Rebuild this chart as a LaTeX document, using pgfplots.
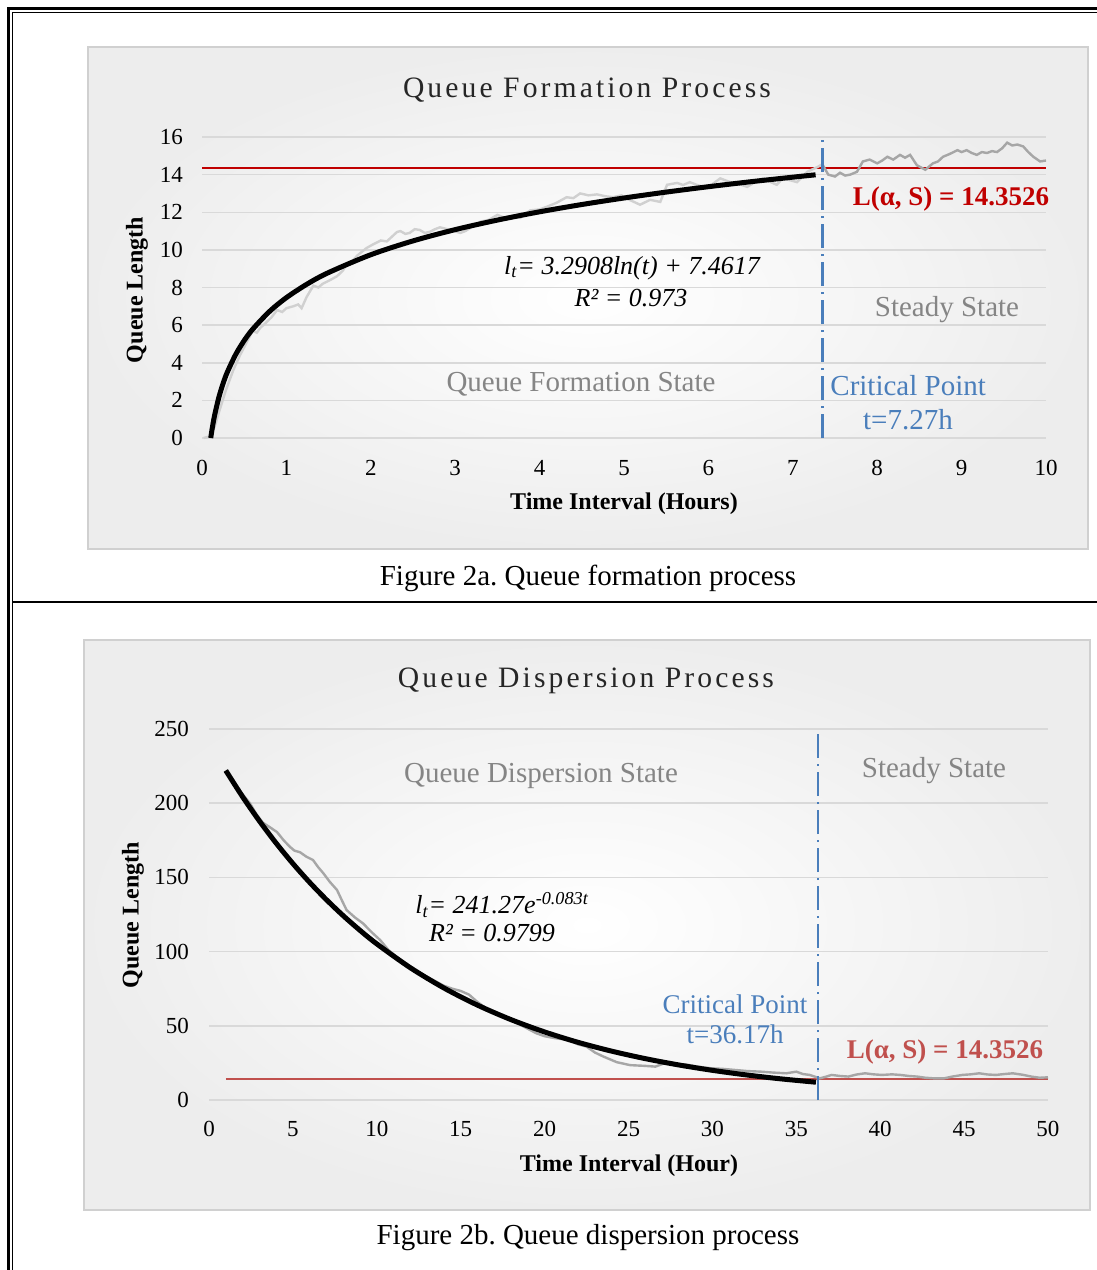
\documentclass[border=0pt]{standalone}
\usepackage{fontspec}
\setmainfont{Liberation Serif}
\newfontfamily\titlefont[LetterSpace=10.5]{Liberation Serif}
\usepackage{pgfplots}
\pgfplotsset{compat=1.18}
\definecolor{gridc}{HTML}{D9D9D9}
\definecolor{panelb}{HTML}{D0D0D0}
\definecolor{grayL}{HTML}{D0D0D0}
\definecolor{grayD}{HTML}{A6A6A6}
\definecolor{redA}{HTML}{C00000}
\definecolor{redB}{HTML}{C0504D}
\definecolor{blueA}{HTML}{4A7EBB}
\definecolor{txtgray}{HTML}{858585}
\definecolor{titlec}{HTML}{262626}
\pgfplotsset{qstyle/.style={
  scale only axis, anchor=south west, clip=false,
  axis line style={draw=none}, major tick length=0pt,
  ymajorgrids, grid style={gridc, line width=0.75pt},
  tick label style={font=\fontsize{11.5}{13}\selectfont, text=black},
  /pgf/number format/assume math mode=true,
}}
\frenchspacing
\begin{document}
\frenchspacing
\begin{tikzpicture}
\begin{scope}[x=0.5pt,y=-0.5pt]
\useasboundingbox (0,0) rectangle (1097,1270);
\shade[inner color=white, outer color=black!7] (88,47) rectangle (1088,549);
\draw[panelb, line width=0.6pt] (88,47) rectangle (1088,549);
\shade[inner color=white, outer color=black!7] (84,640) rectangle (1090,1210);
\draw[panelb, line width=0.6pt] (84,640) rectangle (1090,1210);
\draw[line width=1.5pt] (8.8,1300) -- (8.8,8.7) -- (1110,8.7);
\draw[line width=0.5pt] (12.2,1300) -- (12.2,12) -- (1110,12);
\draw[line width=1.25pt] (12.2,602) -- (1110,602);
\end{scope}

% ---------------- Chart 1 ----------------
\begin{axis}[qstyle, at={(101pt,-219pt)}, width=422pt, height=150.5pt,
  xmin=0, xmax=10, ymin=0, ymax=16,
  xtick={0,1,...,10}, ytick={0,2,...,16},
  yticklabel style={xshift=-6pt}, xticklabel style={yshift=-7.5pt}]
\addplot[redA, line width=1.3pt] coordinates {(0,14.3526) (10,14.3526)};
\addplot[grayL, line width=1.2pt] coordinates {
(0.02,0) (0.1,0.1) (0.15,0.6) (0.21,1.5) (0.28,2.5) (0.37,3.6) (0.45,4.4) (0.52,5.0)
(0.6,5.7) (0.65,5.6) (0.69,5.85) (0.75,6.1) (0.82,6.4) (0.89,6.8) (0.95,6.7) (1.0,6.9)
(1.08,7.0) (1.14,7.1) (1.18,6.9) (1.24,7.5) (1.32,8.1) (1.38,8.0) (1.43,8.2) (1.52,8.4)
(1.6,8.6) (1.67,8.9) (1.72,9.3) (1.78,9.4) (1.84,9.7) (1.95,10.1) (2.03,10.3) (2.12,10.5)
(2.19,10.45) (2.25,10.7) (2.31,10.95) (2.35,11.0) (2.41,10.85) (2.46,10.9) (2.52,11.1) (2.58,11.06)
(2.64,10.9) (2.7,10.96) (2.76,11.1) (2.82,11.2) (2.95,11.05) (3.06,10.9) (3.12,11.0) (3.18,11.17)
(3.3,11.5) (3.4,11.6) (3.5,11.86) (3.56,11.75) (3.61,11.7) (3.7,11.8) (3.77,11.7) (3.89,12.1)
(4.0,12.15) (4.09,12.3) (4.2,12.5) (4.32,12.8) (4.4,12.75) (4.48,13.0) (4.58,12.9) (4.68,12.95)
(4.78,12.85) (4.87,12.8) (4.97,12.9) (5.07,12.65) (5.19,12.4) (5.31,12.66) (5.43,12.55) (5.51,13.46)
(5.63,13.56) (5.7,13.45) (5.78,13.6) (5.86,13.46) (5.98,13.3) (6.05,13.5) (6.14,13.8) (6.26,13.6)
(6.36,13.5) (6.46,13.35) (6.55,13.6) (6.65,13.8) (6.74,13.6) (6.81,13.46) (6.88,13.8) (6.97,13.7)
(7.05,13.6) (7.17,14.15) (7.29,14.4) (7.35,14.55)};
\addplot[grayD, line width=1.2pt] coordinates {
(7.35,14.55) (7.42,14.0) (7.5,13.9) (7.56,14.1) (7.62,13.95) (7.68,14.0) (7.76,14.15) (7.83,14.7)
(7.91,14.8) (8.0,14.6) (8.06,14.75) (8.12,14.95) (8.19,14.8) (8.27,15.05) (8.33,14.9) (8.39,15.05)
(8.47,14.5) (8.57,14.26) (8.66,14.6) (8.72,14.7) (8.78,14.95) (8.86,15.1) (8.95,15.3) (9.0,15.2)
(9.06,15.3) (9.12,15.15) (9.18,15.05) (9.24,15.2) (9.3,15.15) (9.36,15.25) (9.42,15.2) (9.48,15.4)
(9.54,15.7) (9.6,15.55) (9.66,15.6) (9.73,15.5) (9.79,15.2) (9.85,14.95) (9.93,14.7) (10,14.75)};
\addplot[black, line width=2.5pt, smooth] coordinates {
(0.1036,0) (0.12,0.485) (0.15,1.219) (0.2,2.166) (0.25,2.900) (0.3,3.500) (0.4,4.446)
(0.5,5.181) (0.6,5.781) (0.8,6.727) (1.0,7.462) (1.25,8.196) (1.5,8.796) (2,9.743)
(2.5,10.477) (3,11.077) (3.5,11.584) (4,12.024) (4.5,12.411) (5,12.758) (5.5,13.072)
(6,13.358) (6.5,13.622) (7,13.865) (7.27,13.990)};
\addplot[blueA, line width=1.2pt, dash pattern=on 12pt off 3pt on 1pt off 3pt] coordinates {(7.35,0) (7.35,16)};
\end{axis}

% ---------------- Chart 2 ----------------
\begin{axis}[qstyle, at={(104.5pt,-550pt)}, width=419.5pt, height=185.5pt,
  xmin=0, xmax=50, ymin=0, ymax=250,
  xtick={0,5,...,50}, ytick={0,50,...,250},
  yticklabel style={xshift=-6.5pt}, xticklabel style={yshift=-7pt}]
\addplot[redB, line width=1.2pt] coordinates {(1,14.3526) (50,14.3526)};
\addplot[grayD, line width=1.2pt] coordinates {
(1,222) (1.5,214) (2,206) (2.44,200) (2.8,193) (3.2,187) (3.6,184) (4.05,180.6)
(4.45,175) (4.83,170.5) (5.1,168) (5.42,167) (5.8,164) (6.2,161.7) (6.5,157) (6.8,153)
(7.2,147) (7.63,141.5) (7.9,135) (8.2,128) (8.7,123) (9.18,119) (9.7,113) (10.2,107.8)
(10.7,101) (11.2,96.4) (12,90) (12.5,86) (13,83) (13.5,80) (14,77) (14.5,75)
(15,73.5) (15.5,71) (16,66) (16.5,62) (17,59) (17.5,56) (18,54) (18.5,51)
(19,48) (19.5,45) (20,43) (20.6,41.7) (21.4,40.5) (22,37.5) (22.5,36) (23,32)
(23.5,29.3) (24.3,25.5) (25.1,23.5) (26,23) (26.6,22.5) (27.2,25) (27.8,23.5) (28.4,24)
(29.1,22.5) (29.9,21.4) (30.6,21) (31.3,20.3) (32.1,19.5) (32.9,19.1) (33.6,18.5) (34.4,18.0)
(35.0,19.1) (35.4,17.5) (35.8,16.9) (36.4,14.6) (36.8,15.8) (37.1,16.9) (37.6,16.2) (38.1,15.8)
(38.6,17.2) (39.1,18.0) (39.6,17.3) (40.1,16.9) (40.7,17.3) (41.2,16.9) (41.7,16.2) (42.2,15.8)
(42.7,15.0) (43.2,14.6) (43.8,14.6) (44.3,15.8) (44.9,16.9) (45.4,17.3) (45.9,18.0) (46.4,17.2)
(46.9,16.9) (47.4,17.5) (47.9,18.0) (48.5,17.0) (49.0,15.8) (49.5,15.0) (50,15.3)};
\addplot[black, line width=2.5pt, smooth] coordinates {
(1,222.05) (2,204.37) (3,188.09) (4,173.11) (5,159.32) (6,146.63) (7,134.95) (8,124.20)
(9,114.31) (10,105.20) (12,89.12) (14,75.49) (16,63.94) (18,54.16) (20,45.88) (22,38.86)
(24,32.92) (26,27.88) (28,23.62) (30,20.00) (32,16.94) (34,14.35) (36.17,11.99)};
\addplot[blueA, line width=1.2pt, dash pattern=on 12pt off 3pt on 1pt off 3pt] coordinates {(36.3,0) (36.3,250)};
\end{axis}

\begin{scope}[x=0.5pt,y=-0.5pt]
% chart 1 texts
\node[font=\titlefont\fontsize{14.8}{16}\selectfont, text=titlec] at (587,90) {Queue Formation Process};
\node[rotate=90, font=\bfseries\fontsize{12}{14}\selectfont] at (137,290) {Queue Length};
\node[font=\bfseries\fontsize{12}{14}\selectfont] at (624,504) {Time Interval (Hours)};
\node[font=\itshape\fontsize{13}{15}\selectfont] at (632,268) {l\textsubscript{t}= 3.2908ln(t) + 7.4617};
\node[font=\itshape\fontsize{13}{15}\selectfont] at (631,298) {R² = 0.973};
\node[font=\fontsize{14.5}{16}\selectfont, text=txtgray] at (581,384) {Queue Formation State};
\node[font=\fontsize{14.5}{16}\selectfont, text=txtgray] at (947,310) {Steady State};
\node[font=\fontsize{14.5}{16}\selectfont, text=blueA, anchor=west, inner sep=0pt] at (830,386) {Critical Point};
\node[font=\fontsize{14.5}{16}\selectfont, text=blueA] at (908,420) {t=7.27h};
\node[font=\bfseries\fontsize{13.5}{15}\selectfont, text=redA] at (951,199) {L(α, S) = 14.3526};
\node[font=\fontsize{14.5}{16}\selectfont] at (588,578) {Figure 2a. Queue formation process};
% chart 2 texts
\node[font=\titlefont\fontsize{14.8}{16}\selectfont, text=titlec] at (586,681) {Queue Dispersion Process};
\node[rotate=90, font=\bfseries\fontsize{12}{14}\selectfont] at (133,915) {Queue Length};
\node[font=\bfseries\fontsize{12}{14}\selectfont] at (629,1166) {Time Interval (Hour)};
\node[font=\itshape\fontsize{13}{15}\selectfont, anchor=west, inner sep=0pt] at (415,905) {l\textsubscript{t}= 241.27e\textsuperscript{-0.083t}};
\node[font=\itshape\fontsize{13}{15}\selectfont] at (492,933) {R² = 0.9799};
\node[font=\fontsize{14.5}{16}\selectfont, text=txtgray] at (541,776) {Queue Dispersion State};
\node[font=\fontsize{14.5}{16}\selectfont, text=txtgray] at (934,771) {Steady State};
\node[font=\fontsize{13.5}{15}\selectfont, text=blueA] at (735,1004) {Critical Point};
\node[font=\fontsize{13.5}{15}\selectfont, text=blueA] at (735,1034) {t=36.17h};
\node[font=\bfseries\fontsize{13.5}{15}\selectfont, text=redB] at (945,1052) {L(α, S) = 14.3526};
\node[font=\fontsize{14.5}{16}\selectfont] at (588,1238) {Figure 2b. Queue dispersion process};
\end{scope}
\end{tikzpicture}
\end{document}
